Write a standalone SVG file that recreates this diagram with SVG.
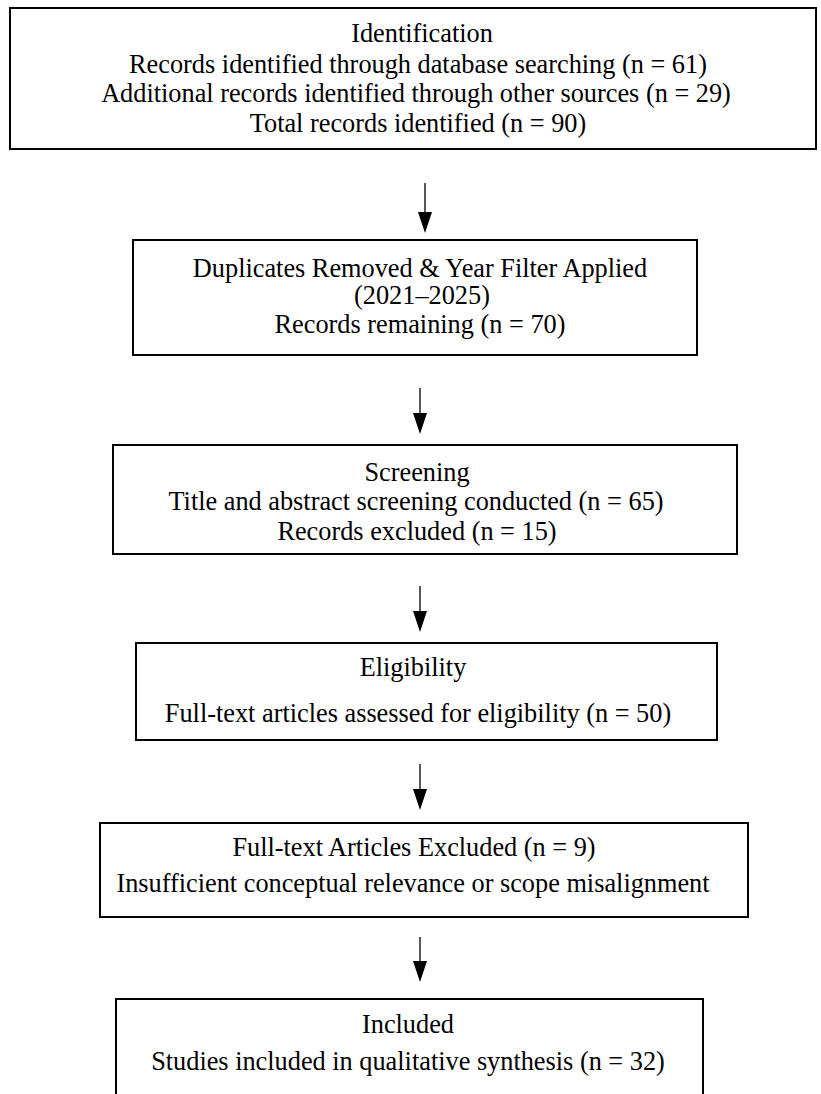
<svg xmlns="http://www.w3.org/2000/svg" width="821" height="1094" viewBox="0 0 821 1094">
<style>
.box{fill:#fff;stroke:#000;stroke-width:2}
text{font-family:"Liberation Serif","Times New Roman",serif;font-size:26.3px;fill:#000;text-anchor:middle}
.c line{stroke:#000;stroke-width:1.3}
.c path{fill:#000}
</style>
<rect width="821" height="1094" fill="#fff"/>
<g id="n1">
<rect class="box" x="10" y="8" width="806" height="141"/>
<text x="422" y="42">Identification</text>
<text x="418" y="73">Records identified through database searching (n = 61)</text>
<text x="416" y="102">Additional records identified through other sources (n = 29)</text>
<text x="418" y="132">Total records identified (n = 90)</text>
</g>
<g id="n2">
<rect class="box" x="133" y="240" width="564" height="115"/>
<text x="420" y="277">Duplicates Removed &amp; Year Filter Applied</text>
<text x="422" y="304">(2021–2025)</text>
<text x="420" y="333">Records remaining (n = 70)</text>
</g>
<g id="n3">
<rect class="box" x="113" y="445" width="624" height="109"/>
<text x="417" y="481">Screening</text>
<text x="416" y="510">Title and abstract screening conducted (n = 65)</text>
<text x="417" y="540">Records excluded (n = 15)</text>
</g>
<g id="n4">
<rect class="box" x="136" y="643" width="581" height="97"/>
<text x="413" y="676">Eligibility</text>
<text x="418" y="722">Full-text articles assessed for eligibility (n = 50)</text>
</g>
<g id="n5">
<rect class="box" x="100" y="823" width="648" height="94"/>
<text x="414" y="856">Full-text Articles Excluded (n = 9)</text>
<text x="413" y="892">Insufficient conceptual relevance or scope misalignment</text>
</g>
<g id="n6">
<rect class="box" x="116" y="999" width="587" height="110"/>
<text x="408" y="1033">Included</text>
<text x="408" y="1070">Studies included in qualitative synthesis (n = 32)</text>
</g>
<g id="connectors" class="c">
<line x1="425" y1="183" x2="425" y2="213"/><path d="M418,212 L432,212 L425,233 Z"/>
<line x1="420" y1="388" x2="420" y2="414"/><path d="M413,413 L427,413 L420,434 Z"/>
<line x1="420" y1="586" x2="420" y2="612"/><path d="M413,611 L427,611 L420,632 Z"/>
<line x1="420" y1="764" x2="420" y2="790"/><path d="M413,789 L427,789 L420,810 Z"/>
<line x1="420" y1="937" x2="420" y2="962"/><path d="M413,961 L427,961 L420,982 Z"/>
</g>
</svg>
